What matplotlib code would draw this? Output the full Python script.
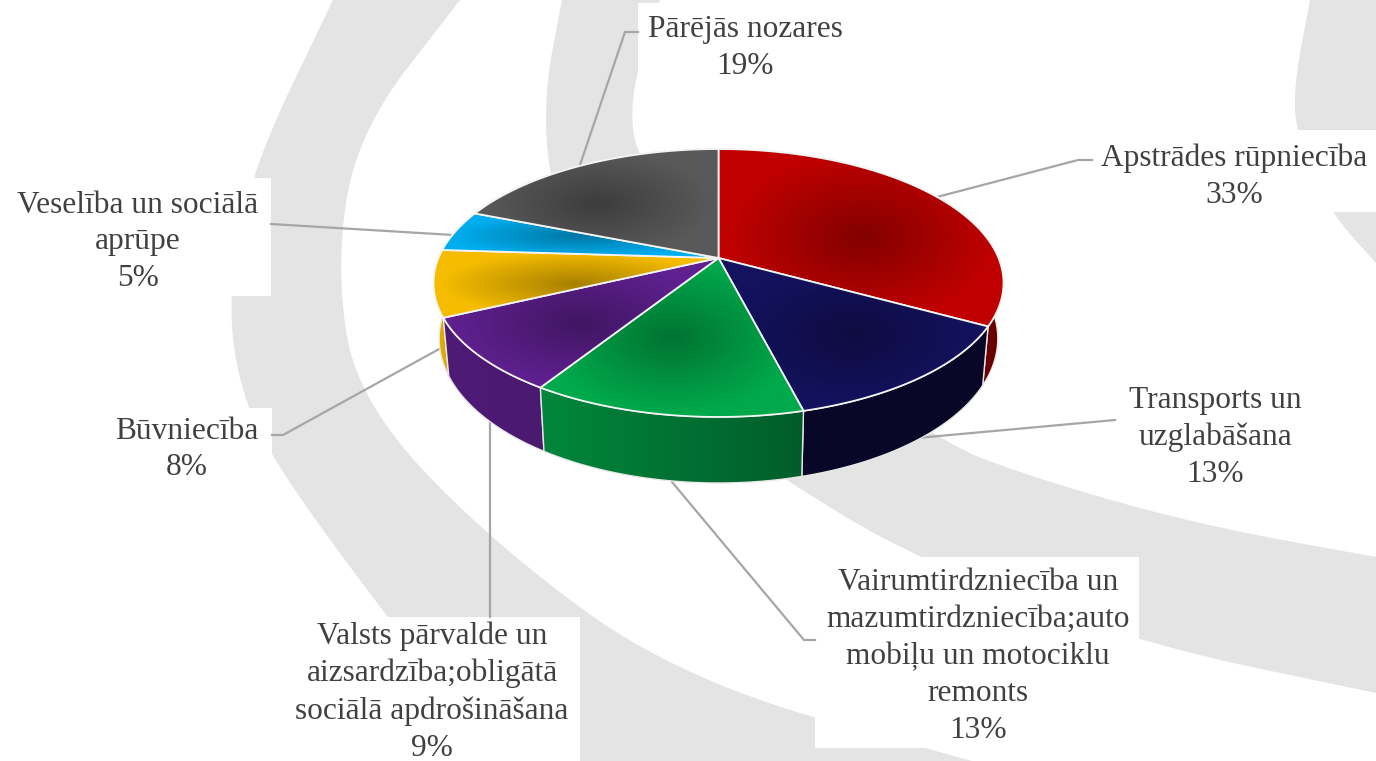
import numpy as np

import matplotlib

matplotlib.use("Agg")
import matplotlib.pyplot as plt
from matplotlib.colors import to_rgb
from matplotlib.patches import Polygon, Rectangle


categories = [
    "Apstrādes rūpniecība",
    "Transports un\nuzglabāšana",
    "Vairumtirdzniecība un\nmazumtirdzniecība;auto\nmobiļu un motociklu\nremonts",
    "Valsts pārvalde un\naizsardzība;obligātā\nsociālā apdrošināšana",
    "Būvniecība",
    "Veselība un sociālā\naprūpe",
    "Pārējās nozares",
]
shares = [33, 13, 13, 9, 8, 5, 19]
colors = ["#C00000", "#14125F", "#00A94B", "#5F2090", "#F5BC00", "#00AEEF", "#595959"]

# side wall brightness at the left / right end of every slice
side_left = [0.55, 0.42, 0.80, 0.82, 0.92, 0.8, 0.7]
side_right = [0.55, 0.42, 0.55, 0.78, 0.90, 0.8, 0.7]

label_pos = [(1234, 177), (1215, 437.5), (978, 656.5), (432, 692), (187, 449.5), (138, 242), (745, 48)]
boxes = [
    (1092, 130, 284, 82),
    (1110, 378, 210, 112),
    (815, 557, 324, 191),
    (284, 617, 296, 144),
    (100, 408, 172, 77),
    (0, 178, 271, 118),
    (638, 3, 217, 82),
]
leaders = [
    [(1092, 160), (1078, 160), (937, 197)],
    [(1115, 420), (917, 438)],
    [(815, 640), (804, 640), (672, 482)],
    [(490, 617), (490, 420)],
    [(272, 435), (283, 435), (441, 348)],
    [(271, 224), (453, 235)],
    [(638, 32), (625, 32), (580, 165)],
]

# background swoosh edges, each band is one edge and then the other
bands = [
    ([(333, 0), (250, 173), (227, 300), (242, 400), (286, 480), (384, 613), (500, 761)],
     [(972, 761), (680, 680), (492, 543), (357, 400), (336, 267), (357, 133), (460, 0)]),
    ([(562, 0), (543, 100), (552, 200), (620, 370), (785, 480), (912, 557), (1137, 643), (1376, 693)],
     [(1376, 557), (1200, 525), (1040, 480), (933, 440), (760, 300), (640, 170), (628, 100), (660, 0)]),
    ([(1310, 0), (1293, 90), (1298, 140), (1330, 212), (1376, 263)],
     [(1376, 0)]),
]

CX, CY = 718.5, 258
K = 0.1866
A, B = 280, 129.3
DEPTH = 53.7
SHRINK = 0.98
GRAY = "#E4E4E4"


def project(theta):
    # circle on a tilted plane seen in perspective, clockwise from the top
    px = np.sin(theta)
    py = -np.cos(theta)
    den = 1 - K * py
    return CX + A * px / den, CY + B * py / den, den


def bottom(theta):
    x, y, den = project(theta)
    return CX + (x - CX) * SHRINK, y + DEPTH / den


def chaikin(pts, rounds=4):
    # corner cutting, the two end points stay where they are
    pts = np.array(pts, dtype=float)
    for _ in range(rounds):
        if len(pts) < 3:
            break
        q = 0.75 * pts[:-1] + 0.25 * pts[1:]
        r = 0.25 * pts[:-1] + 0.75 * pts[1:]
        mid = np.empty((2 * len(q), 2))
        mid[0::2] = q
        mid[1::2] = r
        pts = np.vstack([pts[0], mid, pts[-1]])
    return pts


def top_face(ax, color, t0, t1, z):
    th = np.linspace(t0, t1, 120)
    x, y, _ = project(th)
    xs = np.r_[CX, x]
    ys = np.r_[CY, y]
    x0, x1, y0, y1 = xs.min(), xs.max(), ys.min(), ys.max()
    gx, gy = np.meshgrid(np.linspace(x0, x1, 300), np.linspace(y0, y1, 300))
    r = np.hypot((gx - (x0 + x1) / 2) / ((x1 - x0) / 2), (gy - (y0 + y1) / 2) / ((y1 - y0) / 2))
    shade = 0.68 + 0.32 * np.clip(r / 0.95, 0, 1)
    img = shade[..., None] * np.array(to_rgb(color))
    im = ax.imshow(img, extent=(x0, x1, y1, y0), aspect="auto", interpolation="bilinear", zorder=z)
    poly = Polygon(np.c_[xs, ys], closed=True, fc="none", ec="#F4F4F4", lw=1.3, zorder=z + 0.1)
    ax.add_patch(poly)
    im.set_clip_path(poly)


def side_wall(ax, color, left, right, t0, t1, z):
    th = np.linspace(t0, t1, 80)
    x, y, _ = project(th)
    bx, by = bottom(th)
    xs = np.r_[x, bx[::-1]]
    ys = np.r_[y, by[::-1]]
    x0, x1, y0, y1 = xs.min(), xs.max(), ys.min(), ys.max()
    shade = np.linspace(left, right, 200)[None, :]
    img = shade[..., None] * np.array(to_rgb(color))
    im = ax.imshow(img, extent=(x0, x1, y1, y0), aspect="auto", interpolation="bilinear", zorder=z)
    poly = Polygon(np.c_[xs, ys], closed=True, fc="none", ec="#E8E8E8", lw=1.0, zorder=z + 0.1)
    ax.add_patch(poly)
    im.set_clip_path(poly)


def main():
    fig = plt.figure(figsize=(13.76, 7.61), dpi=100)
    ax = fig.add_axes([0, 0, 1, 1])

    for edge_a, edge_b in bands:
        outline = np.vstack([chaikin(edge_a), chaikin(edge_b)])
        ax.add_patch(Polygon(outline, closed=True, fc=GRAY, ec="none", zorder=1))

    for (x, y, w, h) in boxes:
        ax.add_patch(Rectangle((x, y), w, h, fc="white", ec="none", zorder=2))

    for line in leaders:
        pts = np.array(line)
        ax.plot(pts[:, 0], pts[:, 1], color="#A6A6A6", lw=1.6, zorder=3, solid_joinstyle="miter")

    edges = np.cumsum([0] + shares) / sum(shares) * 2 * np.pi
    order = np.argsort(np.cos((edges[:-1] + edges[1:]) / 2))[::-1]
    for n, i in enumerate(order):
        side_wall(ax, colors[i], side_left[i], side_right[i], edges[i], edges[i + 1], 4 + n * 0.2)
    for i in range(len(shares)):
        top_face(ax, colors[i], edges[i], edges[i + 1], 6 + i * 0.2)

    for name, share, (x, y) in zip(categories, shares, label_pos):
        ax.text(x, y, f"{name}\n{share}%", ha="center", va="center", fontsize=22.6,
                family="Liberation Serif", color="#404040", linespacing=1.36, zorder=9)

    ax.set_xlim(0, 1376)
    ax.set_ylim(761, 0)
    ax.axis("off")
    fig.savefig("out.png", dpi=100)
    plt.close(fig)


if __name__ == "__main__":
    main()
